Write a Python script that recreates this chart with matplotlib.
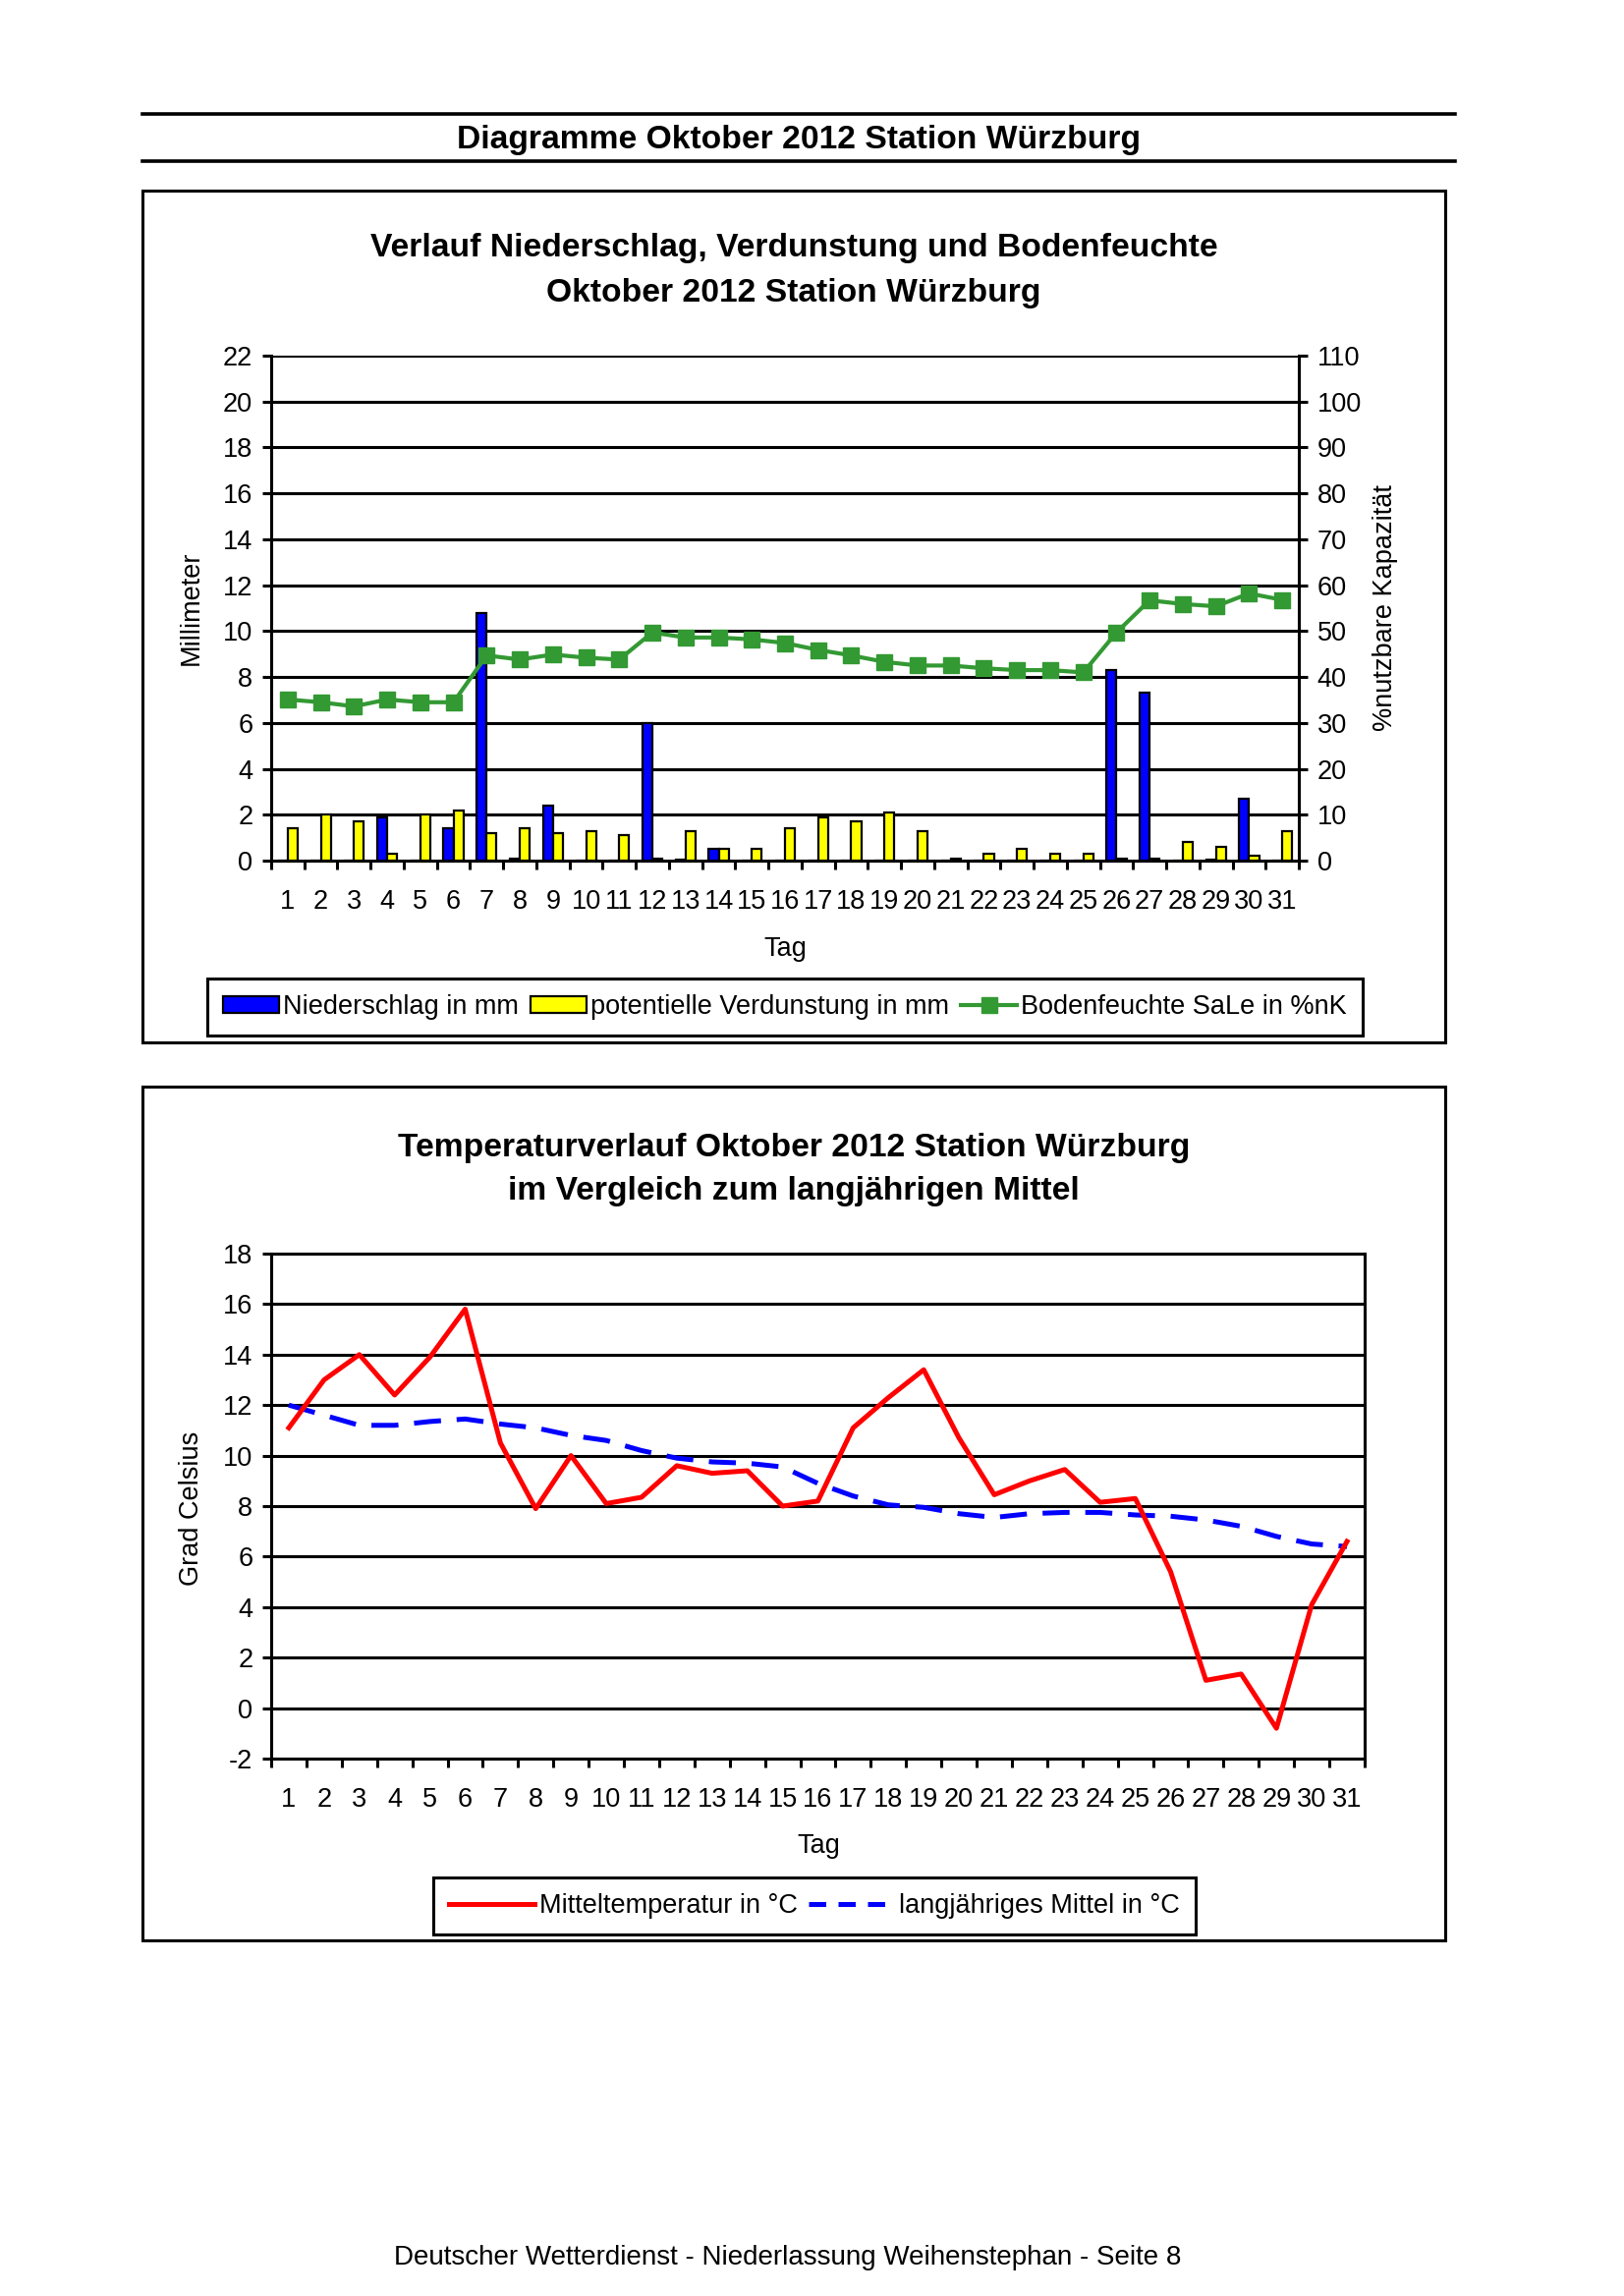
import numpy as np
import matplotlib
matplotlib.use("Agg")
import matplotlib.pyplot as plt
from matplotlib.patches import Rectangle, Patch
from matplotlib.lines import Line2D

plt.rcParams['font.family'] = ['Liberation Sans', 'DejaVu Sans']
plt.rcParams['axes.unicode_minus'] = False

# ---------------- data ----------------
days = list(range(1, 32))
day_labels = [str(d) for d in days]
niederschlag = [0, 0, 0, 1.9, 0, 1.4, 10.8, 0.1, 2.4, 0, 0, 6.0, 0.05, 0.5, 0, 0,
                0, 0, 0, 0, 0, 0, 0, 0, 0, 8.3, 7.3, 0, 0.05, 2.7, 0]
verdunstung = [1.4, 2.0, 1.7, 0.3, 2.0, 2.2, 1.2, 1.4, 1.2, 1.3, 1.1, 0.1, 1.3, 0.5, 0.5, 1.4,
               1.9, 1.7, 2.1, 1.3, 0.1, 0.3, 0.5, 0.3, 0.3, 0.1, 0.1, 0.8, 0.6, 0.2, 1.3]
bodenfeuchte = [35.1, 34.5, 33.6, 35.1, 34.5, 34.5, 44.7, 43.8, 44.9, 44.2, 43.8, 49.7, 48.6, 48.6,
                48.2, 47.4, 45.9, 44.7, 43.3, 42.5, 42.5, 41.9, 41.5, 41.5, 41.0, 49.7, 56.7, 55.9,
                55.4, 58.2, 56.8]
mitteltemp = [11.1, 13.0, 14.0, 12.4, 13.9, 15.8, 10.5, 7.9, 10.0, 8.1, 8.35, 9.6, 9.3, 9.4, 8.0,
              8.2, 11.1, 12.3, 13.4, 10.7, 8.45, 9.0, 9.45, 8.15, 8.3, 5.4, 1.1, 1.35, -0.8, 4.1, 6.6]
langj_mittel = [12.0, 11.6, 11.2, 11.2, 11.35, 11.45, 11.25, 11.1, 10.8, 10.6, 10.2, 9.9, 9.75, 9.7,
                9.55, 8.9, 8.4, 8.05, 7.95, 7.7, 7.55, 7.7, 7.75, 7.75, 7.65, 7.6, 7.45, 7.2, 6.8,
                6.5, 6.4]

# ---------------- figure ----------------
W, H = 1653, 2337
fig = plt.figure(figsize=(W / 100, H / 100), dpi=100)
fig.patch.set_facecolor('white')

FS = 19.5
TFS = 24.2
LW = 2.2


def fx(x):
    return x / W


def fy(y):
    return 1 - y / H


# header
for yy in (116, 164):
    fig.add_artist(Line2D([fx(145), fx(1481)], [fy(yy), fy(yy)], color='black', lw=2.6))
fig.text(fx(813), fy(143), 'Diagramme Oktober 2012 Station Würzburg', ha='center', va='center',
         fontsize=TFS, fontweight='bold')

# boxes
for (x0, y0, x1, y1) in [(145, 194, 1471, 1061), (145, 1106, 1471, 1975)]:
    fig.add_artist(Rectangle((fx(x0), fy(y1)), fx(x1) - fx(x0), fy(y0) - fy(y1),
                             fill=False, ec='black', lw=2.2, transform=fig.transFigure))

# footer
fig.text(fx(802), fy(2298), 'Deutscher Wetterdienst - Niederlassung Weihenstephan - Seite 8',
         ha='center', va='center', fontsize=20)

# ---------------- chart 1 ----------------
fig.text(fx(808), fy(253), 'Verlauf Niederschlag, Verdunstung und Bodenfeuchte', ha='center',
         va='center', fontsize=TFS, fontweight='bold')
fig.text(fx(808), fy(298), 'Oktober 2012 Station Würzburg', ha='center', va='center',
         fontsize=TFS, fontweight='bold')

ax1 = fig.add_axes([fx(276), fy(876), fx(1322) - fx(276), fy(362) - fy(876)])
x = np.array(days, dtype=float)
bw = 0.3
ax1.bar(x - bw / 2, niederschlag, width=bw, color='#0000FF', edgecolor='black', linewidth=1.6,
        zorder=3)
ax1.bar(x + bw / 2, verdunstung, width=bw, color='#FFFF00', edgecolor='black', linewidth=1.6,
        zorder=3)
ax1.set_xlim(0.5, 31.5)
ax1.set_ylim(0, 22)
ax1.set_yticks(np.arange(0, 23, 2))
ax1.yaxis.grid(True, color='black', lw=LW)
ax1.set_axisbelow(True)
ax1.set_xticks(days)
ax1.set_xticklabels(day_labels)
ax1.set_xticks(np.arange(0.5, 32, 1), minor=True)
ax1.tick_params(axis='x', which='major', length=0, pad=21, labelsize=FS)
ax1.tick_params(axis='x', which='minor', length=6.5, width=LW, direction='out')
ax1.tick_params(axis='y', length=6.5, width=LW, direction='out', pad=7, labelsize=FS)
for s in ('left', 'bottom'):
    ax1.spines[s].set_linewidth(LW)
ax1.spines['top'].set_visible(False)
ax1.spines['right'].set_visible(False)

ax2 = ax1.twinx()
ax2.plot(x, bodenfeuchte, color='#339933', lw=3.0, marker='s', markersize=11, zorder=5)
ax2.set_ylim(0, 110)
ax2.set_yticks(np.arange(0, 111, 10))
ax2.tick_params(axis='y', length=6.5, width=LW, direction='out', pad=7, labelsize=FS)
ax2.spines['right'].set_linewidth(LW)
for s in ('left', 'top', 'bottom'):
    ax2.spines[s].set_visible(False)

fig.text(fx(799), fy(966), 'Tag', ha='center', va='center', fontsize=FS)
fig.text(fx(195), fy(619), 'Millimeter', ha='center', va='center', rotation=90, fontsize=FS)
fig.text(fx(1410), fy(619), '%nutzbare Kapazität', ha='center', va='center', rotation=90,
         fontsize=FS)

h1 = [Patch(facecolor='#0000FF', edgecolor='black', linewidth=1.6),
      Patch(facecolor='#FFFF00', edgecolor='black', linewidth=1.6),
      Line2D([], [], color='#339933', lw=3.0, marker='s', markersize=11)]
leg1 = fig.legend(h1, ['Niederschlag in mm', 'potentielle Verdunstung in mm',
                       'Bodenfeuchte SaLe in %nK'],
                  loc='center', bbox_to_anchor=(fx(799), fy(1025)), ncol=3, fontsize=FS,
                  frameon=True, fancybox=False, edgecolor='black', framealpha=1,
                  handlelength=2.1, handleheight=0.6, handletextpad=0.15, columnspacing=0.45,
                  borderpad=0.6, borderaxespad=0)
leg1.get_frame().set_linewidth(LW)

# ---------------- chart 2 ----------------
fig.text(fx(808), fy(1169), 'Temperaturverlauf Oktober 2012 Station Würzburg', ha='center',
         va='center', fontsize=TFS, fontweight='bold')
fig.text(fx(808), fy(1213), 'im Vergleich zum langjährigen Mittel', ha='center', va='center',
         fontsize=TFS, fontweight='bold')

ax3 = fig.add_axes([fx(276), fy(1790), fx(1389) - fx(276), fy(1276) - fy(1790)])
ax3.plot(x, mitteltemp, color='#FF0000', lw=3.6, zorder=4)
ax3.plot(x, langj_mittel, color='#0000FF', lw=3.6, dashes=(5.5, 3.2), zorder=3)
ax3.set_xlim(0.5, 31.5)
ax3.set_ylim(-2, 18)
ax3.set_yticks(np.arange(-2, 19, 2))
ax3.yaxis.grid(True, color='black', lw=LW)
ax3.set_axisbelow(True)
ax3.set_xticks(days)
ax3.set_xticklabels(day_labels)
ax3.set_xticks(np.arange(0.5, 32, 1), minor=True)
ax3.tick_params(axis='x', which='major', length=0, pad=21, labelsize=FS)
ax3.tick_params(axis='x', which='minor', length=6.5, width=LW, direction='out')
ax3.tick_params(axis='y', length=6.5, width=LW, direction='out', pad=7, labelsize=FS)
for s in ax3.spines.values():
    s.set_linewidth(LW)

fig.text(fx(833), fy(1879), 'Tag', ha='center', va='center', fontsize=FS)
fig.text(fx(195), fy(1535), 'Grad Celsius', ha='center', va='center', rotation=90, fontsize=FS)

h2 = [Line2D([], [], color='#FF0000', lw=3.6),
      Line2D([], [], color='#0000FF', lw=3.6, dashes=(3.5, 2.5))]
leg2 = fig.legend(h2, ['Mitteltemperatur in °C', 'langjähriges Mittel in °C'],
                  loc='center', bbox_to_anchor=(fx(829), fy(1940)), ncol=2, fontsize=FS,
                  frameon=True, fancybox=False, edgecolor='black', framealpha=1,
                  handlelength=3.2, handletextpad=0.2, columnspacing=0.4,
                  borderpad=0.6, borderaxespad=0)
leg2.get_frame().set_linewidth(LW)

fig.savefig('out.png', dpi=100, facecolor='white')
